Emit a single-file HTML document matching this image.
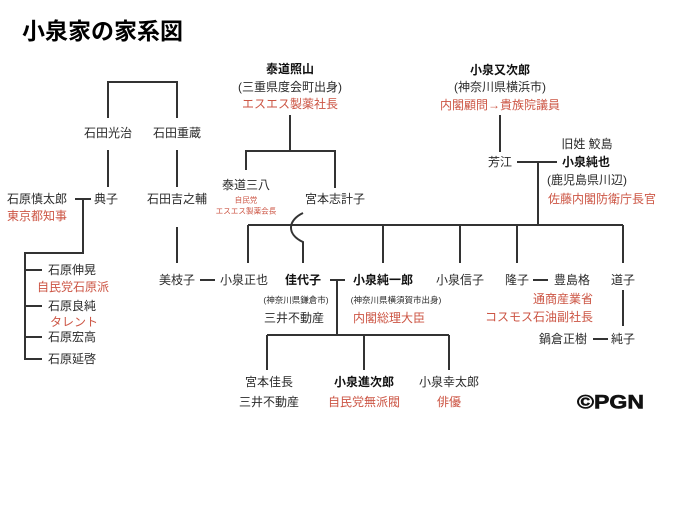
<!DOCTYPE html>
<html><head><meta charset="utf-8">
<style>
html,body{margin:0;padding:0;background:#fff;}
svg{display:block;}
text{font-family:"Liberation Sans","Noto Sans CJK JP",sans-serif;fill:#2a2a2a;dominant-baseline:central;}
.c{text-anchor:middle;}
.b{font-weight:bold;fill:#111;}
.r{fill:#cc5544;}
.s{font-size:8.5px;}
.xs{font-size:7.6px;}
</style></head>
<body>
<svg width="680" height="510" viewBox="0 0 680 510" xmlns="http://www.w3.org/2000/svg" font-size="12">
<rect width="680" height="510" fill="#fff"/>
<g fill="none" stroke="#333" stroke-width="2">
<path d="M108 118 V82 H177 V118"/>
<path d="M108 150 V187 M177 150 V187"/>
<path d="M75 199 H91"/>
<path d="M83 199 V253 H25 V359 H42"/>
<path d="M25 270 H42 M25 306 H42 M25 337 H42"/>
<path d="M177 227 V263"/>
<path d="M200 280 H215"/>
<path d="M290 115 V151"/>
<path d="M246 170 V151 H335 V188"/>
<path d="M500 115 V152"/>
<path d="M517 162 H557"/>
<path d="M538 162 V225"/>
<path d="M248 225 H623"/>
<path d="M248 225 V263 M383 225 V263 M460 225 V263 M517 225 V263 M623 225 V263"/>
<path d="M303 213 C288 220 286 234 303 242 V263"/>
<path d="M330 280 H345"/>
<path d="M337 280 V335"/>
<path d="M267 335 H449"/>
<path d="M267 335 V370 M364 335 V370 M449 335 V370"/>
<path d="M533 280 H548"/>
<path d="M623 290 V326"/>
<path d="M593 339 H608"/>
</g>

<text x="22" y="31" font-size="23" font-weight="bold" style="fill:#000">小泉家の家系図</text>

<text class="c b" x="290" y="69">泰道照山</text>
<text class="c" x="290" y="87">(三重県度会町出身)</text>
<text class="c r" x="290" y="104">エスエス製薬社長</text>

<text class="c b" x="500" y="70">小泉又次郎</text>
<text class="c" x="500" y="87">(神奈川県横浜市)</text>
<text class="c r" x="500" y="105">内閣顧問→貴族院議員</text>

<text class="c" x="108" y="133">石田光治</text>
<text class="c" x="177" y="133">石田重蔵</text>

<text class="c" x="246" y="185">泰道三八</text>
<text class="c r xs" x="246" y="200">自民党</text>
<text class="c r xs" x="246" y="211">エスエス製薬会長</text>
<text class="c" x="335" y="199">宮本志計子</text>

<text class="c" x="587" y="144">旧姓 鮫島</text>
<text class="c" x="500" y="162">芳江</text>
<text class="c b" x="586" y="162">小泉純也</text>
<text class="c" x="587" y="180">(鹿児島県川辺)</text>
<text class="c r" x="602" y="199">佐藤内閣防衛庁長官</text>

<text x="7" y="199">石原慎太郎</text>
<text class="c" x="106" y="199">典子</text>
<text class="c" x="177" y="199">石田吉之輔</text>
<text class="r" x="7" y="216">東京都知事</text>

<text x="48" y="270">石原伸晃</text>
<text class="r" x="37" y="287">自民党石原派</text>
<text x="48" y="306">石原良純</text>
<text class="r" x="50" y="322">タレント</text>
<text x="48" y="337">石原宏高</text>
<text x="48" y="359">石原延啓</text>

<text class="c" x="177" y="280">美枝子</text>
<text class="c" x="244" y="280">小泉正也</text>
<text class="c b" x="303" y="280">佳代子</text>
<text class="c b" x="383" y="280">小泉純一郎</text>
<text class="c" x="460" y="280">小泉信子</text>
<text class="c" x="517" y="280">隆子</text>
<text class="c" x="572" y="280">豊島格</text>
<text class="c" x="623" y="280">道子</text>

<text class="c s" x="296" y="300">(神奈川県鎌倉市)</text>
<text class="c s" x="396" y="300">(神奈川県横須賀市出身)</text>
<text class="c" x="294" y="318">三井不動産</text>
<text class="c r" x="389" y="318">内閣総理大臣</text>

<text class="c r" x="563" y="299">通商産業省</text>
<text class="r" x="593" y="317" text-anchor="end">コスモス石油副社長</text>
<text class="c" x="563" y="339">鍋倉正樹</text>
<text class="c" x="623" y="339">純子</text>

<text class="c" x="269" y="382">宮本佳長</text>
<text class="c" x="269" y="402">三井不動産</text>
<text class="c b" x="364" y="382">小泉進次郎</text>
<text class="c r" x="364" y="402">自民党無派閥</text>
<text class="c" x="449" y="382">小泉幸太郎</text>
<text class="c r" x="449" y="402">俳優</text>

<text x="577" y="403" font-size="19" font-weight="bold" style="fill:#111;stroke:#111;stroke-width:0.6" textLength="67" lengthAdjust="spacingAndGlyphs">©PGN</text>
</svg>
</body></html>
